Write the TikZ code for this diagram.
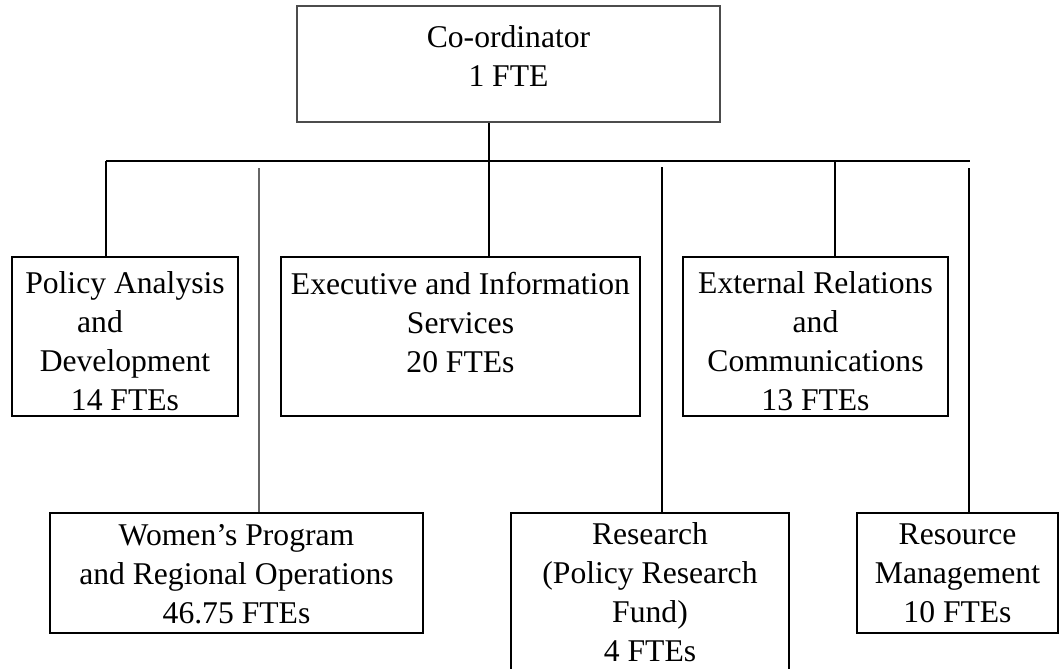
\documentclass[tikz,border=0pt]{standalone}
\usepackage{fontspec}
\setmainfont{Liberation Serif}
\usetikzlibrary{positioning}
\tikzstyle{headbox} = [draw=black!70, line width=0.7pt, rectangle, inner sep=0pt, font=\fontsize{18pt}{22.2pt}\selectfont]
\tikzstyle{unitbox} = [draw=black, line width=1.2pt, rectangle, inner sep=0pt, font=\fontsize{18pt}{22.2pt}\selectfont]
\tikzstyle{link} = [draw=black, line width=0.6pt]
\newcommand{\unitlabel}[4]{\parbox[c][#2][t]{#1}{\centering\vspace*{#3}#4}}

\begin{document}
\begin{tikzpicture}
\useasboundingbox (0,0) rectangle (21.24,-13.36);
% top of the chart
\node[headbox] (coord) at (10.17,-1.28) {\unitlabel{8.46cm}{2.32cm}{0.40cm}{Co-ordinator\\1 FTE}};
% first row
\node[unitbox] (policy) at (2.50,-6.73) {\unitlabel{4.52cm}{3.18cm}{0.30cm}{Policy Analysis\\and\rule{1cm}{0pt}\\Development\\14 FTEs}};
\node[unitbox] (exec) at (9.21,-6.73) {\unitlabel{7.18cm}{3.18cm}{0.30cm}{Executive and Information\\Services\\20 FTEs}};
\node[unitbox] (extrel) at (16.31,-6.73) {\unitlabel{5.30cm}{3.18cm}{0.30cm}{External Relations\\and\\Communications\\13 FTEs}};
% second row
\node[unitbox] (women) at (4.73,-11.46) {\unitlabel{7.46cm}{2.40cm}{0.22cm}{Women's Program\\and Regional Operations\\46.75 FTEs}};
\node[unitbox] (research) at (13.00,-11.83) {\unitlabel{5.56cm}{3.14cm}{0.20cm}{Research\\(Policy Research\\Fund)\\4 FTEs}};
\node[unitbox] (resource) at (19.15,-11.46) {\unitlabel{4.02cm}{2.40cm}{0.22cm}{Resource\\Management\\10 FTEs}};
% connectors
\coordinate (busL) at (2.12,-3.22);
\coordinate (busR) at (19.40,-3.22);
\coordinate (trunk) at (9.78,-3.22);
\coordinate (extdrop) at (16.70,-3.22);
\coordinate (womendrop) at (5.18,-3.36);
\coordinate (researchdrop) at (13.24,-3.34);
\coordinate (resourcedrop) at (19.38,-3.36);
\draw[link] (busL) -- (busR);
\draw[link] (trunk |- coord.south) -- (trunk |- exec.north);
\draw[link] (busL) -- (busL |- policy.north);
\draw[link] (extdrop) -- (extdrop |- extrel.north);
\draw[link, draw=black!60] (womendrop) -- (womendrop |- women.north);
\draw[link] (researchdrop) -- (researchdrop |- research.north);
\draw[link] (resourcedrop) -- (resourcedrop |- resource.north);
\end{tikzpicture}
\end{document}
